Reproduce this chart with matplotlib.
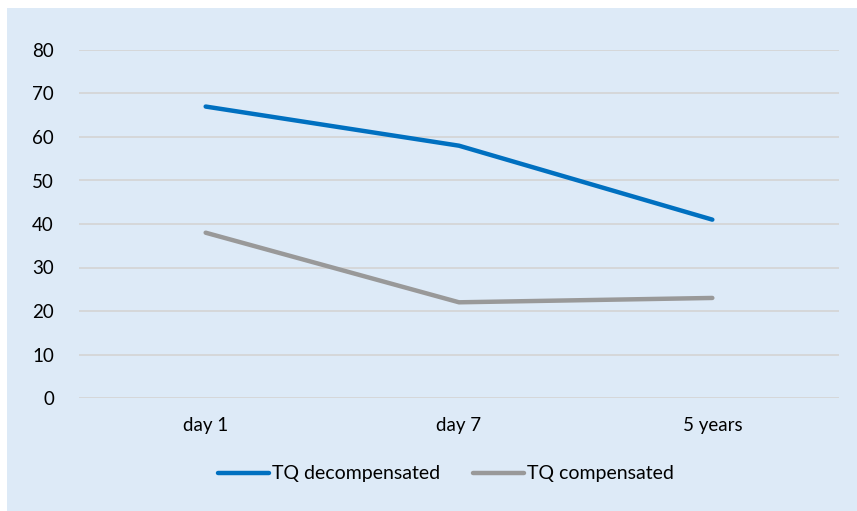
import matplotlib
matplotlib.use("Agg")
import matplotlib.pyplot as plt
from matplotlib.patches import Rectangle

matplotlib.rcParams['font.family'] = ['Lato', 'DejaVu Sans']

categories = ["day 1", "day 7", "5 years"]
decompensated = [67, 58, 41]
compensated = [38, 22, 23]

bg = '#DDEAF7'
W, H = 857, 511

fig = plt.figure(figsize=(W / 100, H / 100), dpi=100, facecolor='white')
# light blue panel with white margin on left and top
fig.patches.append(Rectangle((7 / W, 0), 1 - 7 / W, 1 - 8 / H,
                             transform=fig.transFigure, facecolor=bg,
                             edgecolor='none', zorder=-10))

ax = fig.add_axes([79 / W, 1 - 398 / H, (839 - 79) / W, (398 - 50) / H])
ax.set_facecolor('none')
ax.set_zorder(1)

x = range(len(categories))
ax.plot(x, decompensated, color='#0070C0', lw=3.2, solid_capstyle='round',
        label='TQ decompensated')
ax.plot(x, compensated, color='#999999', lw=3.2, solid_capstyle='round',
        label='TQ compensated')

ax.set_xlim(-0.5, len(categories) - 0.5)
ax.set_ylim(0, 80)
ax.set_yticks(range(0, 81, 10))
ax.set_xticks(list(x))
ax.set_xticklabels(categories)
ax.tick_params(length=0, labelsize=13.5, colors='#000000')
ax.tick_params(axis='y', pad=18)
ax.tick_params(axis='x', pad=14)
ax.grid(axis='y', color='#D4D4D4', lw=1.2)
ax.set_axisbelow(True)
for s in ax.spines.values():
    s.set_visible(False)

leg = fig.legend(loc='center', bbox_to_anchor=(446 / W, 1 - 474 / H), ncol=2,
                 frameon=False, fontsize=14, handlelength=2.6,
                 handletextpad=0.15, columnspacing=1.7)

fig.savefig('out.png', dpi=100, facecolor='white')
